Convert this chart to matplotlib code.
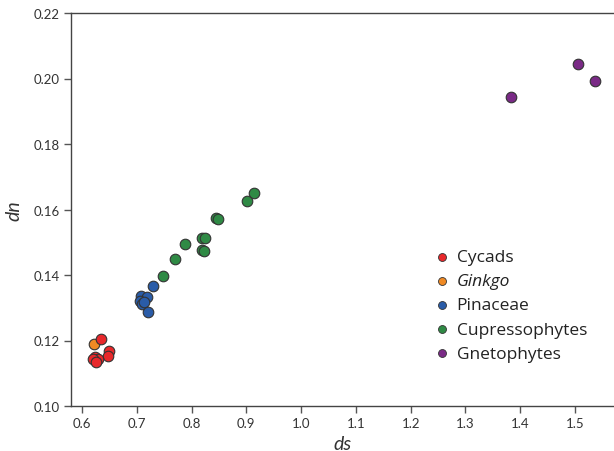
import matplotlib
matplotlib.use('Agg')

import matplotlib.pyplot as plt

plt.rcParams['font.family'] = ['Lato', 'DejaVu Sans']

# ds / dn values per group
cycads_ds = [0.6347, 0.6493, 0.6474, 0.6237, 0.6292, 0.6201, 0.6255]
cycads_dn = [0.1205, 0.1168, 0.1153, 0.1150, 0.1144, 0.1144, 0.1134]
ginkgo_ds = [0.6219]
ginkgo_dn = [0.1189]
pinaceae_ds = [0.7296, 0.7077, 0.7186, 0.7058, 0.7095, 0.7131, 0.7204]
pinaceae_dn = [0.1366, 0.1336, 0.1333, 0.1321, 0.1311, 0.1318, 0.1287]
cupresso_ds = [0.9139, 0.9011, 0.8445, 0.8482, 0.8190, 0.8245, 0.8190, 0.8226, 0.7880, 0.7697, 0.7478]
cupresso_dn = [0.1650, 0.1626, 0.1574, 0.1571, 0.1513, 0.1513, 0.1476, 0.1473, 0.1495, 0.1449, 0.1397]
gneto_ds = [1.383, 1.505, 1.536]
gneto_dn = [0.1943, 0.2044, 0.1992]

xticks = [0.6, 0.7, 0.8, 0.9, 1.0, 1.1, 1.2, 1.3, 1.4, 1.5]
yticks = [0.10, 0.12, 0.14, 0.16, 0.18, 0.20, 0.22]

fig = plt.figure(figsize=(6.14, 4.52), dpi=100)
ax = fig.add_axes([70.7/614, 1 - 407/452, 1 - 70.7/614, (407 - 14)/452])

edge = '#333333'
kw = dict(s=58, edgecolors=edge, linewidths=0.8)
ax.scatter(cycads_ds, cycads_dn, color='#e8282b', label='Cycads', zorder=3, **kw)
ax.scatter(ginkgo_ds, ginkgo_dn, color='#f08a24', label='Ginkgo', zorder=2, **kw)
ax.scatter(pinaceae_ds, pinaceae_dn, color='#2a5ca8', label='Pinaceae', zorder=3, **kw)
ax.scatter(cupresso_ds, cupresso_dn, color='#2f8a45', label='Cupressophytes', zorder=3, **kw)
ax.scatter(gneto_ds, gneto_dn, color='#7a2a86', label='Gnetophytes', zorder=3, **kw)

ax.set_xlim(0.5794, 1.5712)
ax.set_ylim(0.10, 0.22)
ax.set_xticks(xticks)
ax.set_xticklabels(['%.1f' % v for v in xticks])
ax.set_yticks(yticks)
ax.set_yticklabels(['%.2f' % v for v in yticks])
ax.tick_params(direction='out', length=5, width=1, color='#555555', labelsize=9.5, labelcolor='#333333', pad=3)

ax.spines['right'].set_visible(False)
for s in ['left', 'bottom', 'top']:
    ax.spines[s].set_color('#444444')
    ax.spines[s].set_linewidth(1)

ax.set_xlabel('ds', fontsize=14, style='italic', color='#333333', labelpad=4)
ax.set_ylabel('dn', fontsize=14, style='italic', color='#333333', labelpad=8)

leg = ax.legend(loc='upper left', bbox_to_anchor=(0.656, 0.417), frameon=False,
                prop={'family': 'Open Sans', 'size': 12.5},
                markerscale=0.75, handlelength=0.95, handletextpad=0.35,
                labelspacing=0.46, borderaxespad=0)
for t in leg.get_texts():
    t.set_color('#222222')
leg.get_texts()[1].set_style('italic')
for h in leg.legend_handles:
    h.set_linewidth(0.6)

plt.savefig('out.png', dpi=100)
